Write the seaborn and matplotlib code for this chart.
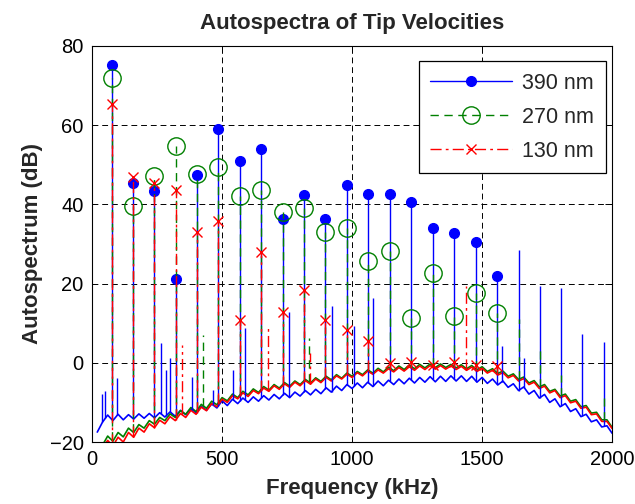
import numpy as np
import pandas as pd
import seaborn as sns
import matplotlib.pyplot as plt
from matplotlib.lines import Line2D

# frequency bins of the noise floor (kHz)
floor_freq = np.arange(20, 2001, 20)

blue_floor = [
    -17.5, -15.0, -13.2, -14.6, -13.0, -14.4, -13.1, -14.2, -12.9, -14.0,
    -12.8, -13.9, -12.6, -13.7, -12.4, -13.5, -12.0, -13.1, -11.6, -12.6,
    -11.0, -12.0, -10.4, -11.4, -9.6, -10.8, -9.2, -10.3, -8.9, -10.0,
    -8.6, -9.7, -8.3, -9.4, -8.0, -9.1, -7.7, -8.8, -7.4, -8.4,
    -7.0, -8.1, -6.7, -7.8, -6.3, -7.4, -5.9, -7.0, -5.5, -6.5,
    -5.1, -6.3, -4.9, -6.0, -4.6, -5.8, -4.4, -5.5, -4.1, -5.3,
    -3.9, -5.1, -3.7, -4.9, -3.5, -4.8, -3.4, -4.7, -3.3, -4.6,
    -3.3, -4.7, -3.4, -4.9, -3.7, -5.2, -4.1, -5.6, -4.6, -6.2,
    -5.3, -7.0, -6.1, -7.9, -7.0, -8.9, -8.0, -10.0, -9.1, -11.1,
    -10.3, -12.3, -11.6, -13.6, -13.0, -14.9, -14.4, -16.2, -15.9, -17.8,
]
green_floor = [
    -22.5, -20.8, -18.5, -19.8, -17.6, -18.7, -16.5, -17.6, -15.6, -16.5,
    -14.6, -15.5, -13.8, -14.6, -12.9, -13.8, -12.1, -13.0, -11.3, -12.3,
    -10.5, -11.5, -9.7, -10.6, -8.8, -9.6, -7.9, -8.8, -7.2, -8.1,
    -6.6, -7.5, -6.0, -6.9, -5.5, -6.4, -5.0, -5.9, -4.6, -5.5,
    -4.2, -5.1, -3.8, -4.7, -3.4, -4.3, -3.0, -3.9, -2.6, -3.4,
    -2.2, -3.0, -1.8, -2.6, -1.4, -2.3, -1.1, -2.0, -0.8, -1.7,
    -0.6, -1.5, -0.4, -1.3, -0.3, -1.2, -0.3, -1.2, -0.4, -1.3,
    -0.5, -1.5, -0.7, -1.8, -1.0, -2.2, -1.5, -2.7, -2.1, -3.4,
    -2.8, -4.2, -3.6, -5.1, -4.5, -6.1, -5.5, -7.2, -6.7, -8.4,
    -7.9, -9.7, -9.3, -11.1, -10.8, -12.7, -12.5, -14.4, -14.4, -16.3,
]
red_floor = [
    -23.0, -21.5, -19.6, -21.0, -18.8, -20.0, -17.6, -18.8, -16.5, -17.5,
    -15.4, -16.4, -14.5, -15.4, -13.6, -14.6, -12.8, -13.8, -12.0, -13.0,
    -11.2, -12.1, -10.3, -11.1, -9.2, -10.0, -8.3, -9.1, -7.6, -8.5,
    -7.0, -7.8, -6.4, -7.2, -5.8, -6.7, -5.3, -6.2, -4.9, -5.8,
    -4.5, -5.4, -4.1, -5.0, -3.7, -4.6, -3.3, -4.1, -2.9, -3.7,
    -2.5, -3.3, -2.1, -2.9, -1.8, -2.6, -1.5, -2.3, -1.2, -2.1,
    -1.0, -1.9, -0.8, -1.7, -0.7, -1.6, -0.7, -1.6, -0.8, -1.7,
    -0.9, -1.9, -1.1, -2.2, -1.4, -2.6, -1.9, -3.1, -2.5, -3.8,
    -3.2, -4.6, -4.0, -5.5, -4.9, -6.5, -5.9, -7.6, -7.0, -8.8,
    -8.3, -10.1, -9.7, -11.5, -11.2, -13.1, -12.9, -14.8, -14.8, -16.6,
]

# harmonic peaks (kHz) and their levels (dB)
harm_freq = [75, 158, 240, 322, 404, 486, 569, 651, 733, 815,
             897, 979, 1062, 1145, 1228, 1311, 1393, 1476, 1558]
blue_peak = [75.2, 45.4, 43.3, 21.1, 47.5, 59.0, 51.0, 54.0, 36.4, 42.4,
             36.4, 45.0, 42.6, 42.6, 40.5, 34.0, 32.7, 30.5, 22.0]
green_peak = [71.9, 39.7, 47.2, 54.8, 47.7, 49.3, 42.2, 43.7, 38.1, 39.1,
              33.0, 34.0, 25.7, 28.2, 11.4, 22.6, 11.8, 17.5, 12.5]
red_peak = [65.2, 47.0, 45.4, 43.5, 33.0, 35.9, 10.9, 27.9, 12.8, 18.3,
            10.7, 8.3, 5.4, 0.0, 0.2, -0.5, 0.1, -0.5, -0.9]

# other spectral lines without markers
blue_extra_freq = [40, 51, 97, 266, 283, 301, 386, 465, 542, 590, 758,
                   921, 1008, 1082, 1576, 1640, 1662, 1722, 1804, 1886, 1968]
blue_extra_db = [-8.0, -7.2, -3.8, 5.0, -1.8, 1.2, -3.5, -6.8, -1.8, 8.8, 12.8,
                 14.4, 9.4, 16.3, 4.3, 28.5, 1.3, 19.4, 18.9, 7.3, 5.3]
green_extra_freq = [427, 835, 1640, 1722, 1804, 1968]
green_extra_db = [7.1, 6.2, 11.0, 4.0, -3.0, -9.0]
red_extra_freq = [344, 675, 838, 1439]
red_extra_db = [4.5, 9.2, 2.4, 19.3]

labels = ["390 nm", "270 nm", "130 nm"]
colors = {"390 nm": "#0000ff", "270 nm": "#008000", "130 nm": "#ff0000"}

floors = {"390 nm": blue_floor, "270 nm": green_floor, "130 nm": red_floor}
peaks = {"390 nm": blue_peak, "270 nm": green_peak, "130 nm": red_peak}
extras = {"390 nm": (blue_extra_freq, blue_extra_db),
          "270 nm": (green_extra_freq, green_extra_db),
          "130 nm": (red_extra_freq, red_extra_db)}
styles = {"390 nm": "-", "270 nm": (0, (6, 4)), "130 nm": (0, (8, 3, 2, 3))}
marks = {"390 nm": dict(marker="o", ms=7, mfc="#0000ff", mec="#0000ff"),
         "270 nm": dict(marker="o", ms=12.5, mfc="none", mec="#008000", mew=1.0),
         "130 nm": dict(marker="x", ms=7, mec="#ff0000", mew=1.0)}

df = pd.concat([pd.DataFrame({"freq": floor_freq, "db": floors[k], "series": k})
                for k in labels], ignore_index=True)

sns.set_theme(style="white")
plt.rcParams["font.family"] = ["Liberation Sans", "DejaVu Sans"]

fig = plt.figure(figsize=(6.35, 5.04), dpi=100)
ax = fig.add_axes([0.145, 0.123, 0.819, 0.786])

sns.lineplot(data=df, x="freq", y="db", hue="series", palette=colors,
             estimator=None, sort=False, legend=False, lw=1.2, ax=ax)

for k in labels:
    fl = np.asarray(floors[k])
    pf = np.asarray(harm_freq + list(extras[k][0]), dtype=float)
    pv = np.asarray(peaks[k] + list(extras[k][1]), dtype=float)
    base = np.interp(pf, floor_freq, fl)
    ax.vlines(pf, base, np.maximum(pv, base), colors=colors[k],
              linestyles=styles[k], lw=1.0)
    ax.plot(harm_freq, peaks[k], ls="none", **marks[k])

ax.set_xlim(0, 2000)
ax.set_ylim(-20, 80)
ax.set_xticks([0, 500, 1000, 1500, 2000])
ax.set_yticks([-20, 0, 20, 40, 60, 80])
ax.grid(True, color="black", ls=(0, (6, 4)), lw=0.7)
ax.tick_params(direction="in", top=True, right=True, length=5, width=0.7,
               labelsize=14.5, colors="black", pad=6)
for s in ax.spines.values():
    s.set_color("black")
    s.set_linewidth(0.8)

ax.set_title("Autospectra of Tip Velocities", fontsize=16, fontweight="bold", pad=12)
ax.set_xlabel("Frequency (kHz)", fontsize=16, fontweight="bold", labelpad=6)
ax.set_ylabel("Autospectrum (dB)", fontsize=16, fontweight="bold", labelpad=5)

handles = [Line2D([], [], color=colors[k], ls=styles[k], lw=1.0, **marks[k])
           for k in labels]
leg = ax.legend(handles, labels, loc="upper right", bbox_to_anchor=(0.9875, 0.962),
                borderaxespad=0, fontsize=15.5, handlelength=3.8, handletextpad=0.45,
                labelspacing=0.6, borderpad=0.55, frameon=True, fancybox=False,
                edgecolor="black", framealpha=1)
leg.get_frame().set_linewidth(0.9)

fig.savefig("out.png", dpi=100)
